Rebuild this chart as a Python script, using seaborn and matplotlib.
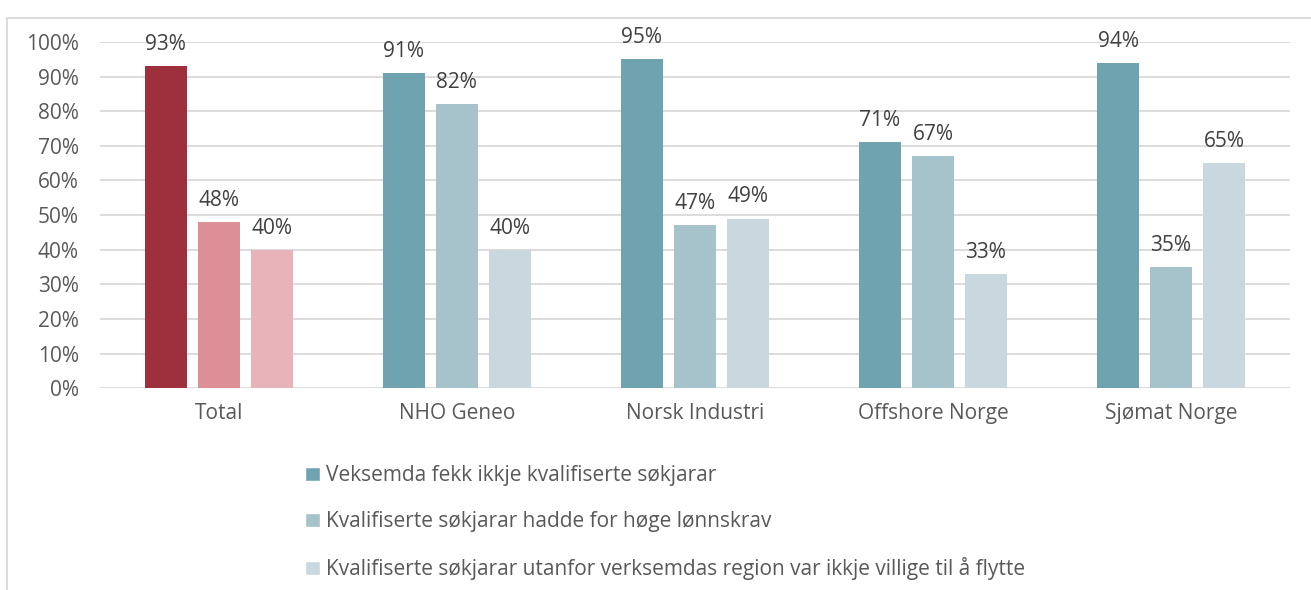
"""Grouped bar chart: reasons for failed recruitment, by member organisation."""
import matplotlib

matplotlib.use("Agg")
import matplotlib.pyplot as plt
import matplotlib.patches as mpatches
from matplotlib.ticker import PercentFormatter
import pandas as pd
import seaborn as sns

sns.set_theme(style="white")
plt.rcParams["font.family"] = ["Open Sans", "DejaVu Sans"]

# --- data -----------------------------------------------------------------
groups = ["Total", "NHO Geneo", "Norsk Industri", "Offshore Norge", "Sjømat Norge"]
reasons = [
    "Veksemda fekk ikkje kvalifiserte søkjarar",
    "Kvalifiserte søkjarar hadde for høge lønnskrav",
    "Kvalifiserte søkjarar utanfor verksemdas region var ikkje villige til å flytte",
]
no_qualified = [0.93, 0.91, 0.95, 0.71, 0.94]
high_wages = [0.48, 0.82, 0.47, 0.67, 0.35]
wont_move = [0.40, 0.40, 0.49, 0.33, 0.65]

teal = ["#6FA3B0", "#A6C2CA", "#C9D8DE"]
red = ["#9E2F3C", "#DD8F97", "#E8B3B8"]
text_col = "#595959"

df = pd.DataFrame({
    "group": groups * 3,
    "reason": [reasons[0]] * 5 + [reasons[1]] * 5 + [reasons[2]] * 5,
    "share": no_qualified + high_wages + wont_move,
})

# --- plot -----------------------------------------------------------------
fig = plt.figure(figsize=(13.11, 5.90), dpi=100)
ax = fig.add_axes([0.076, 0.342, 0.908, 0.587])

sns.barplot(data=df, x="group", y="share", hue="reason", order=groups,
            hue_order=reasons, palette=teal, width=0.667, saturation=1,
            errorbar=None, ax=ax)

bar_w = 0.176
for i, cont in enumerate(ax.containers):
    for j, p in enumerate(cont.patches):
        cx = p.get_x() + p.get_width() / 2
        p.set_width(bar_w)
        p.set_x(cx - bar_w / 2)
        p.set_edgecolor("none")
        if j == 0:
            p.set_facecolor(red[i])
    labels = ax.bar_label(cont, labels=[f"{v:.0%}" for v in cont.datavalues],
                          padding=8, fontsize=15, color="#404040")
    for t in labels:
        t.set_clip_on(False)

ax.set_ylim(0, 1.0)
ax.set_xlim(-0.5, 4.5)
ax.yaxis.set_major_formatter(PercentFormatter(1.0, decimals=0))
ax.set_yticks([i / 10 for i in range(11)])
ax.grid(axis="y", color="#D9D9D9", lw=1.3)
ax.set_axisbelow(True)
for s in ax.spines.values():
    s.set_visible(False)
ax.tick_params(axis="y", labelsize=15, labelcolor=text_col, length=0, pad=15)
ax.tick_params(axis="x", labelsize=15, labelcolor=text_col, length=0, pad=11)
ax.set_xlabel("")
ax.set_ylabel("")

sns.move_legend(ax, "upper left", bbox_to_anchor=(0.157, -0.168),
                frameon=False, title=None,
                fontsize=15, handlelength=0.7, handleheight=0.7,
                handletextpad=0.3, labelspacing=1.2)
for t in ax.get_legend().get_texts():
    t.set_color(text_col)

# light frame around the chart
fig.patches.append(mpatches.Rectangle((7 / 1311, -0.01), 1.0, 0.99 - 12 / 590 + 0.01,
                                      transform=fig.transFigure, fill=False,
                                      edgecolor="#D9D9D9", lw=1.3))

fig.savefig("out.png", dpi=100)
plt.close(fig)
